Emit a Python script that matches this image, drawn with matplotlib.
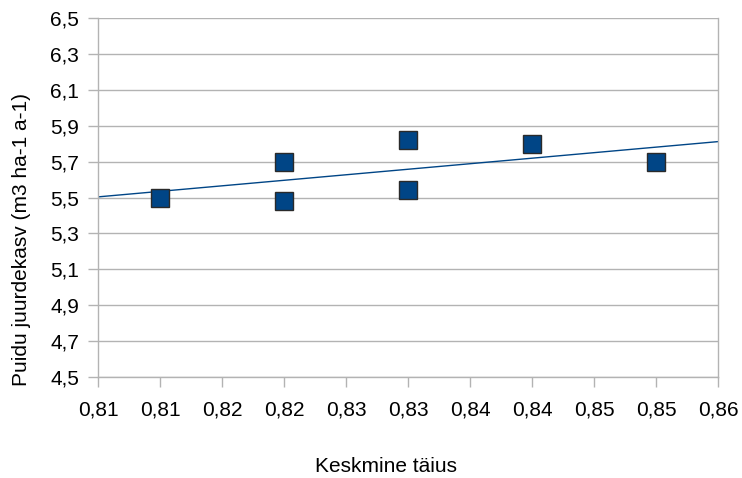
import matplotlib
matplotlib.use("Agg")
import matplotlib.pyplot as plt
import numpy as np

# Data
x_vals = [0.815, 0.825, 0.825, 0.835, 0.835, 0.845, 0.855]
y_vals = [5.50, 5.70, 5.48, 5.82, 5.54, 5.80, 5.70]
x_ticks = [0.810, 0.815, 0.820, 0.825, 0.830, 0.835, 0.840, 0.845, 0.850, 0.855, 0.860]
x_tick_labels = ["0,81", "0,81", "0,82", "0,82", "0,83", "0,83", "0,84", "0,84", "0,85", "0,85", "0,86"]
y_ticks = [4.5, 4.7, 4.9, 5.1, 5.3, 5.5, 5.7, 5.9, 6.1, 6.3, 6.5]
y_tick_labels = ["4,5", "4,7", "4,9", "5,1", "5,3", "5,5", "5,7", "5,9", "6,1", "6,3", "6,5"]

plt.rcParams['font.family'] = ['Liberation Sans', 'DejaVu Sans']
FS = 15

W, H = 742, 478
fig = plt.figure(figsize=(W/100, H/100), dpi=100)
ax = fig.add_axes([98/W, 1-377/H, (718-98)/W, (377-18)/H])

grid_c = "#b3b3b3"
ax.set_xlim(0.81, 0.86)
ax.set_ylim(4.5, 6.5)
ax.set_yticks(y_ticks)
ax.set_yticklabels(y_tick_labels, fontsize=FS)
ax.set_xticks(x_ticks)
ax.set_xticklabels(x_tick_labels, fontsize=FS)
ax.yaxis.grid(True, color=grid_c, linewidth=1)
ax.set_axisbelow(True)
for s in ax.spines.values():
    s.set_color(grid_c)
    s.set_linewidth(1)
ax.spines['top'].set_visible(False)
ax.tick_params(axis='both', color=grid_c, length=7.2, width=1, labelcolor='#000000')
ax.tick_params(axis='x', pad=10)
ax.tick_params(axis='y', pad=6.5)

# trend line
coef = np.polyfit(x_vals, y_vals, 1)
xl = np.array([0.81, 0.86])
ax.plot(xl, np.polyval(coef, xl), color="#004586", linewidth=1, zorder=2)

ax.plot(x_vals, y_vals, linestyle='none', marker='s', markersize=13,
        markerfacecolor="#004586", markeredgecolor="#2a2a2a", markeredgewidth=1, zorder=3,
        clip_on=False)

fig.text(386/W, 1-467/H, "Keskmine täius", fontsize=FS, ha='center', va='center')
fig.text(22/W, 1-239/H, "Puidu juurdekasv (m3 ha-1 a-1)", fontsize=FS,
         ha='center', va='center', rotation=90)

fig.savefig("out.png", dpi=100)
